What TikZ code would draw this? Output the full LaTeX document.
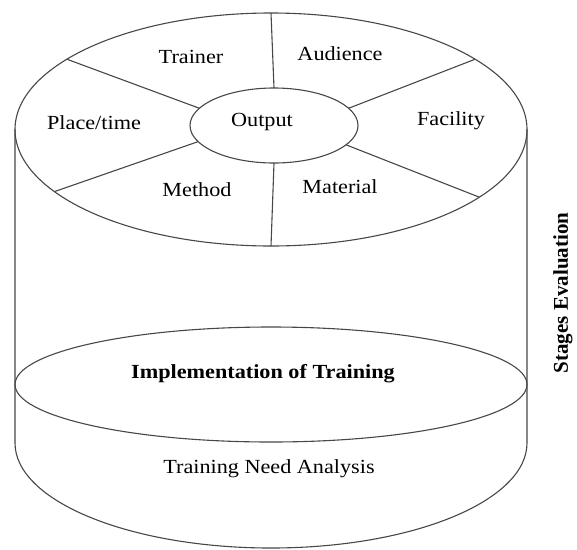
\documentclass[tikz,border=0pt]{standalone}
\usepackage{fontspec}
\setmainfont[FakeStretch=1.11]{Liberation Serif}
\newfontfamily\rotfont{Liberation Serif}
\usetikzlibrary{shapes.geometric}
\tikzset{
  ell/.style={ellipse, draw=black!72, line width=1.1pt, inner sep=0pt, outer sep=0pt},
  edge/.style={draw=black!72, line width=1.1pt},
  lbl/.style={inner sep=0pt, text height=14pt, text depth=4pt, font=\fontsize{20}{24}\selectfont},
}
\begin{document}
\begin{tikzpicture}[x=1pt,y=1pt]
\useasboundingbox (0,0) rectangle (577,-549);
% cylinder body
\node[ell, minimum width=512pt, minimum height=233pt] (top) at (271,-129.5) {};
\node[ell, minimum width=512pt, minimum height=115pt] (mid) at (271,-384.5) {};
\coordinate (bl) at (15,-443);
\coordinate (br) at (527,-443);
\draw[edge] (top.west) -- (bl) arc[start angle=180, end angle=360, x radius=256pt, y radius=105pt] -- (top.east);
% inner ellipse
\node[ell, minimum width=168pt, minimum height=75pt] (out) at (274,-125.5) {};
% spokes
\draw[edge] (out.north) -- (top.north);
\draw[edge] (out.south) -- (top.south);
\draw[edge] (out.167.7) -- (top.161.1);
\draw[edge] (out.13.7) -- (top.19.2);
\draw[edge] (out.192.6) -- (top.196.7);
\draw[edge] (out.345.6) -- (top.342.5);
% labels
\node[lbl] (outtxt) at (262,-121) {Output};
\node[lbl] (trainer) at (191,-58) {Trainer};
\node[lbl] (audience) at (340,-55) {Audience};
\node[lbl] (place) at (94,-124) {Place/time};
\node[lbl] (facility) at (451,-120) {Facility};
\node[lbl] (method) at (197,-191) {Method};
\node[lbl] (material) at (340,-188) {Material};
\node[lbl, font=\fontsize{20}{24}\selectfont\bfseries] (impl) at (263,-373) {Implementation of Training};
\node[lbl] (tna) at (269,-468) {Training Need Analysis};
\node[inner sep=0pt, rotate=90, font=\rotfont\fontsize{21}{25}\selectfont\bfseries] (stages) at (563,-293) {Stages Evaluation};
\end{tikzpicture}
\end{document}
